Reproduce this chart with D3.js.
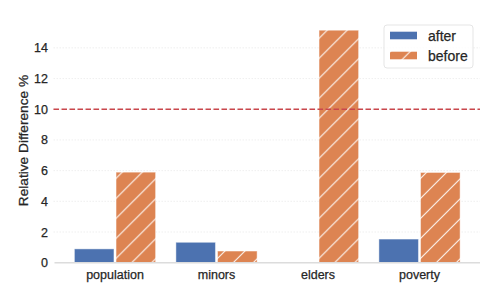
<!DOCTYPE html>
<html>
<head>
<meta charset="utf-8">
<script src="https://cdn.jsdelivr.net/npm/d3@7"></script>
<style>
  html, body { margin: 0; padding: 0; background: #fff; }
  svg { display: block; font-family: "Liberation Sans", Arial, sans-serif; }
  svg text { stroke: #262626; stroke-width: 0.25px; }
</style>
</head>
<body>
<div id="chart"></div>
<script>
// data
const categories = ['population', 'minors', 'elders', 'poverty'];
const series = ['after', 'before'];
const afterVals = [0.9, 1.33, 0, 1.54];
const beforeVals = [5.9, 0.76, 15.15, 5.88];
const threshold = 10;
const yTicks = [0, 2, 4, 6, 8, 10, 12, 14];

(function() {
  const W = 498, H = 299;
  const C = { after: '#4c72b0', before: '#dd8452' };
  const txt = '#262626';

  const rows = categories.map((c, i) => ({ cat: c, after: afterVals[i], before: beforeVals[i] }));

  const svg = d3.select('#chart').append('svg').attr('width', W).attr('height', H);

  // hatch for "before"
  const defs = svg.append('defs');
  const pat = defs.append('pattern').attr('id', 'hatch')
    .attr('patternUnits', 'userSpaceOnUse').attr('width', 20).attr('height', 20);
  pat.append('rect').attr('width', 20).attr('height', 20).attr('fill', C.before);
  pat.append('path').attr('d', 'M-5,5 L5,-5 M0,20 L20,0 M15,25 L25,15')
    .attr('stroke', '#fff').attr('stroke-opacity', 0.9).attr('stroke-width', 1.15);

  const plotL = 53.5, plotR = 480;
  const x = d3.scaleBand().domain(categories).range([64.25, 470.25])
    .paddingInner(0.2).paddingOuter(0.1);
  const xs = d3.scaleBand().domain(series).range([0, x.bandwidth()]).paddingInner(0.05);
  const y = d3.scaleLinear().domain([0, 15.92]).range([262.7, 18.4]);

  // grid
  svg.append('g').selectAll('line').data(yTicks.filter(t => t > 0)).join('line')
    .attr('x1', plotL).attr('x2', plotR)
    .attr('y1', d => y(d)).attr('y2', d => y(d))
    .attr('stroke', '#ebebeb').attr('stroke-width', 0.8).attr('stroke-dasharray', '1.5,1.5');

  // y axis labels
  const yAx = svg.append('g').attr('transform', `translate(${plotL},0)`)
    .call(d3.axisLeft(y).tickValues(yTicks).tickSize(0).tickPadding(5.5));
  yAx.select('.domain').remove();
  yAx.selectAll('text').attr('fill', txt).style('font-size', '12.5px')
    .style('font-family', '"Liberation Sans", Arial, sans-serif');

  // x axis labels
  const xAx = svg.append('g').attr('transform', `translate(0,${y(0)})`)
    .call(d3.axisBottom(x).tickSize(0).tickPadding(7.5));
  xAx.select('.domain').remove();
  xAx.selectAll('text').attr('fill', txt).style('font-size', '12.5px')
    .style('font-family', '"Liberation Sans", Arial, sans-serif');

  // bars
  const grp = svg.append('g').selectAll('g').data(rows).join('g')
    .attr('transform', d => `translate(${x(d.cat)},0)`);
  grp.selectAll('rect').data(d => series.map(s => ({ s, v: d[s] }))).join('rect')
    .attr('x', d => xs(d.s)).attr('width', xs.bandwidth())
    .attr('y', d => y(d.v)).attr('height', d => y(0) - y(d.v))
    .attr('fill', d => d.s === 'before' ? 'url(#hatch)' : C.after)
    .attr('stroke', '#fff').attr('stroke-opacity', 0.45).attr('stroke-width', 1)
    .style('display', d => d.v > 0 ? null : 'none');

  // baseline at zero
  svg.append('line').attr('x1', plotL + 1).attr('x2', plotR)
    .attr('y1', y(0)).attr('y2', y(0))
    .attr('stroke', '#dcdcdc').attr('stroke-width', 1.4);

  // threshold
  svg.append('line').attr('x1', plotL).attr('x2', plotR)
    .attr('y1', y(threshold)).attr('y2', y(threshold))
    .attr('stroke', '#c9474c').attr('stroke-width', 1.6).attr('stroke-dasharray', '5.5,2.5');

  // y label
  svg.append('text').attr('transform', `translate(27.5,${(y(0) + y(15.92)) / 2}) rotate(-90)`)
    .attr('text-anchor', 'middle').attr('fill', txt).style('font-size', '13.7px')
    .text('Relative Difference %');

  // legend
  const leg = svg.append('g').attr('transform', 'translate(384,25)');
  leg.append('rect').attr('width', 89).attr('height', 43).attr('rx', 3)
    .attr('fill', '#fff').attr('fill-opacity', 0.8).attr('stroke', '#dedede').attr('stroke-width', 0.8);
  series.forEach((s, i) => {
    const r = leg.append('g').attr('transform', `translate(6,${6.7 + i * 20})`);
    r.append('rect').attr('width', 27).attr('height', 7.6)
      .attr('fill', s === 'before' ? 'url(#hatch)' : C.after);
    r.append('text').attr('x', 38).attr('y', 9).attr('fill', txt)
      .style('font-size', '14px').text(s);
  });
})();
</script>
</body>
</html>
